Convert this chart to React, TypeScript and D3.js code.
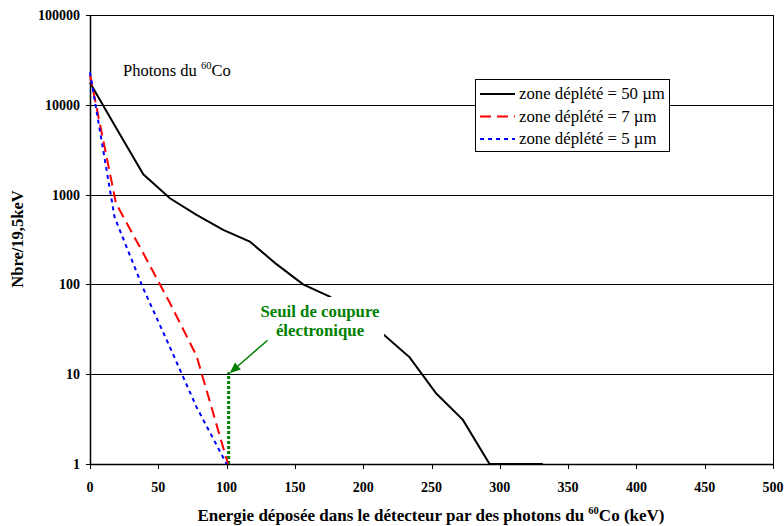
import React from "react";
import * as d3 from "d3";

const blackX = [0, 19.5, 39, 58.5, 78, 97.5, 117, 136.5, 156, 175.5, 195, 214.5, 234, 253.5, 273, 292.5, 312, 331.5];
const blackY = [17600, 5400, 1680, 910, 595, 405, 300, 168, 100, 73, 45, 28, 15.4, 6.1, 3.1, 1, 1, 1];
const redX = [0, 19, 39, 58.5, 78, 101];
const redY = [21600, 800, 222, 62, 16, 1];
const blueX = [0, 18, 39, 58.5, 78, 100];
const blueY = [23000, 560, 90, 20, 4.3, 1];
const xTicks = [0, 50, 100, 150, 200, 250, 300, 350, 400, 450, 500];
const yTicks = [1, 10, 100, 1000, 10000, 100000];
const legendLabels = ["zone déplété = 50 µm", "zone déplété = 7 µm", "zone déplété = 5 µm"];
const cutoffX = 101.5;
const cutoffY = 10;

const FONT = "'Liberation Serif', 'Times New Roman', serif";

export default function App() {
  const x = d3.scaleLinear().domain([0, 500]).range([90, 773]);
  const y = d3.scaleLog().domain([1, 100000]).range([464, 15]);
  const line = d3
    .line<[number, number]>()
    .x((d) => x(d[0]))
    .y((d) => y(d[1]));
  const zip = (xs: number[], ys: number[]) => xs.map((v, i) => [v, ys[i]] as [number, number]);
  const series = [
    { d: zip(blackX, blackY), color: "#000", dash: "none" },
    { d: zip(redX, redY), color: "#ff0000", dash: "11,6" },
    { d: zip(blueX, blueY), color: "#0000ff", dash: "4,4" },
  ];
  const L = 90, R = 773, T = 15, B = 464;
  const cr = (v: number) => Math.round(v) + 0.5;

  // arrow
  const ax2 = x(cutoffX) + 1, ay2 = y(cutoffY) - 1;
  const ax1 = ax2 + 38, ay1 = ay2 - 33;
  const ang = Math.atan2(ay2 - ay1, ax2 - ax1);
  const hl = 11, hw = 4.5;
  const bx = ax2 - hl * Math.cos(ang), by = ay2 - hl * Math.sin(ang);
  const head = [
    [ax2, ay2],
    [bx + hw * Math.sin(ang), by - hw * Math.cos(ang)],
    [bx - hw * Math.sin(ang), by + hw * Math.cos(ang)],
  ];

  return (
    <svg
      width={784}
      height={526}
      style={{ position: "absolute", left: 0, top: 0, background: "#fff", fontFamily: FONT }}
    >
      <rect x={0} y={0} width={784} height={526} fill="#fff" />
      {/* gridlines */}
      {yTicks.map((t) => (
        <g key={t}>
          <line x1={L - 4} x2={R} y1={cr(y(t))} y2={cr(y(t))} stroke="#000" strokeWidth={1} />
          <text x={80} y={y(t) + 5} textAnchor="end" fontWeight="bold" fontSize={14}>
            {t}
          </text>
        </g>
      ))}
      {/* x ticks */}
      {xTicks.map((t) => (
        <g key={t}>
          <line x1={cr(x(t))} x2={cr(x(t))} y1={B} y2={B + 5} stroke="#000" strokeWidth={1} />
          <text x={x(t)} y={492} textAnchor="middle" fontWeight="bold" fontSize={14}>
            {t}
          </text>
        </g>
      ))}
      {/* axes / border */}
      <line x1={cr(L)} x2={cr(L)} y1={T} y2={B + 1} stroke="#000" strokeWidth={1.5} />
      <line x1={cr(R)} x2={cr(R)} y1={T} y2={B + 1} stroke="#000" strokeWidth={1} />
      <line x1={L} x2={R} y1={cr(B)} y2={cr(B)} stroke="#000" strokeWidth={1.5} />

      {/* cutoff marker */}
      <line
        x1={x(cutoffX)}
        x2={x(cutoffX)}
        y1={B}
        y2={y(cutoffY) - 2}
        stroke="#008000"
        strokeWidth={3}
        strokeDasharray="3,2"
      />

      {/* series */}
      {series.map((s, i) => (
        <path
          key={i}
          d={line(s.d) || ""}
          fill="none"
          stroke={s.color}
          strokeWidth={2}
          strokeDasharray={s.dash}
        />
      ))}

      {/* annotation box */}
      <rect x={256} y={297} width={128} height={41} fill="#fff" />
      <text x={320} y={317} textAnchor="middle" fontWeight="bold" fontSize={16.8} fill="#008000">
        Seuil de coupure
      </text>
      <text x={320} y={336} textAnchor="middle" fontWeight="bold" fontSize={16.8} fill="#008000">
        électronique
      </text>
      <line x1={ax1} y1={ay1} x2={bx} y2={by} stroke="#008000" strokeWidth={1.5} />
      <polygon points={head.map((p) => p.join(",")).join(" ")} fill="#008000" />

      {/* Photons label */}
      <text x={123} y={76} fontSize={16.5}>
        Photons du{" "}
        <tspan fontSize={10.5} dy={-7}>
          60
        </tspan>
        <tspan dy={7}>Co</tspan>
      </text>

      {/* legend */}
      <rect x={475.5} y={79.5} width={194} height={72} fill="#fff" stroke="#000" strokeWidth={1} />
      {series.map((s, i) => (
        <g key={i}>
          <line
            x1={480}
            x2={515}
            y1={94 + i * 22.5}
            y2={94 + i * 22.5}
            stroke={s.color}
            strokeWidth={2}
            strokeDasharray={s.dash}
          />
          <text x={519} y={94 + i * 22.5 + 5} fontSize={16.8}>
            {legendLabels[i]}
          </text>
        </g>
      ))}

      {/* axis titles */}
      <text x={431} y={521} textAnchor="middle" fontWeight="bold" fontSize={17}>
        Energie déposée dans le détecteur par des photons du{" "}
        <tspan fontSize={10.5} dy={-7}>
          60
        </tspan>
        <tspan dy={7}>Co (keV)</tspan>
      </text>
      <text
        transform="translate(23,239) rotate(-90)"
        textAnchor="middle"
        fontWeight="bold"
        fontSize={16.5}
      >
        Nbre/19,5keV
      </text>
    </svg>
  );
}
